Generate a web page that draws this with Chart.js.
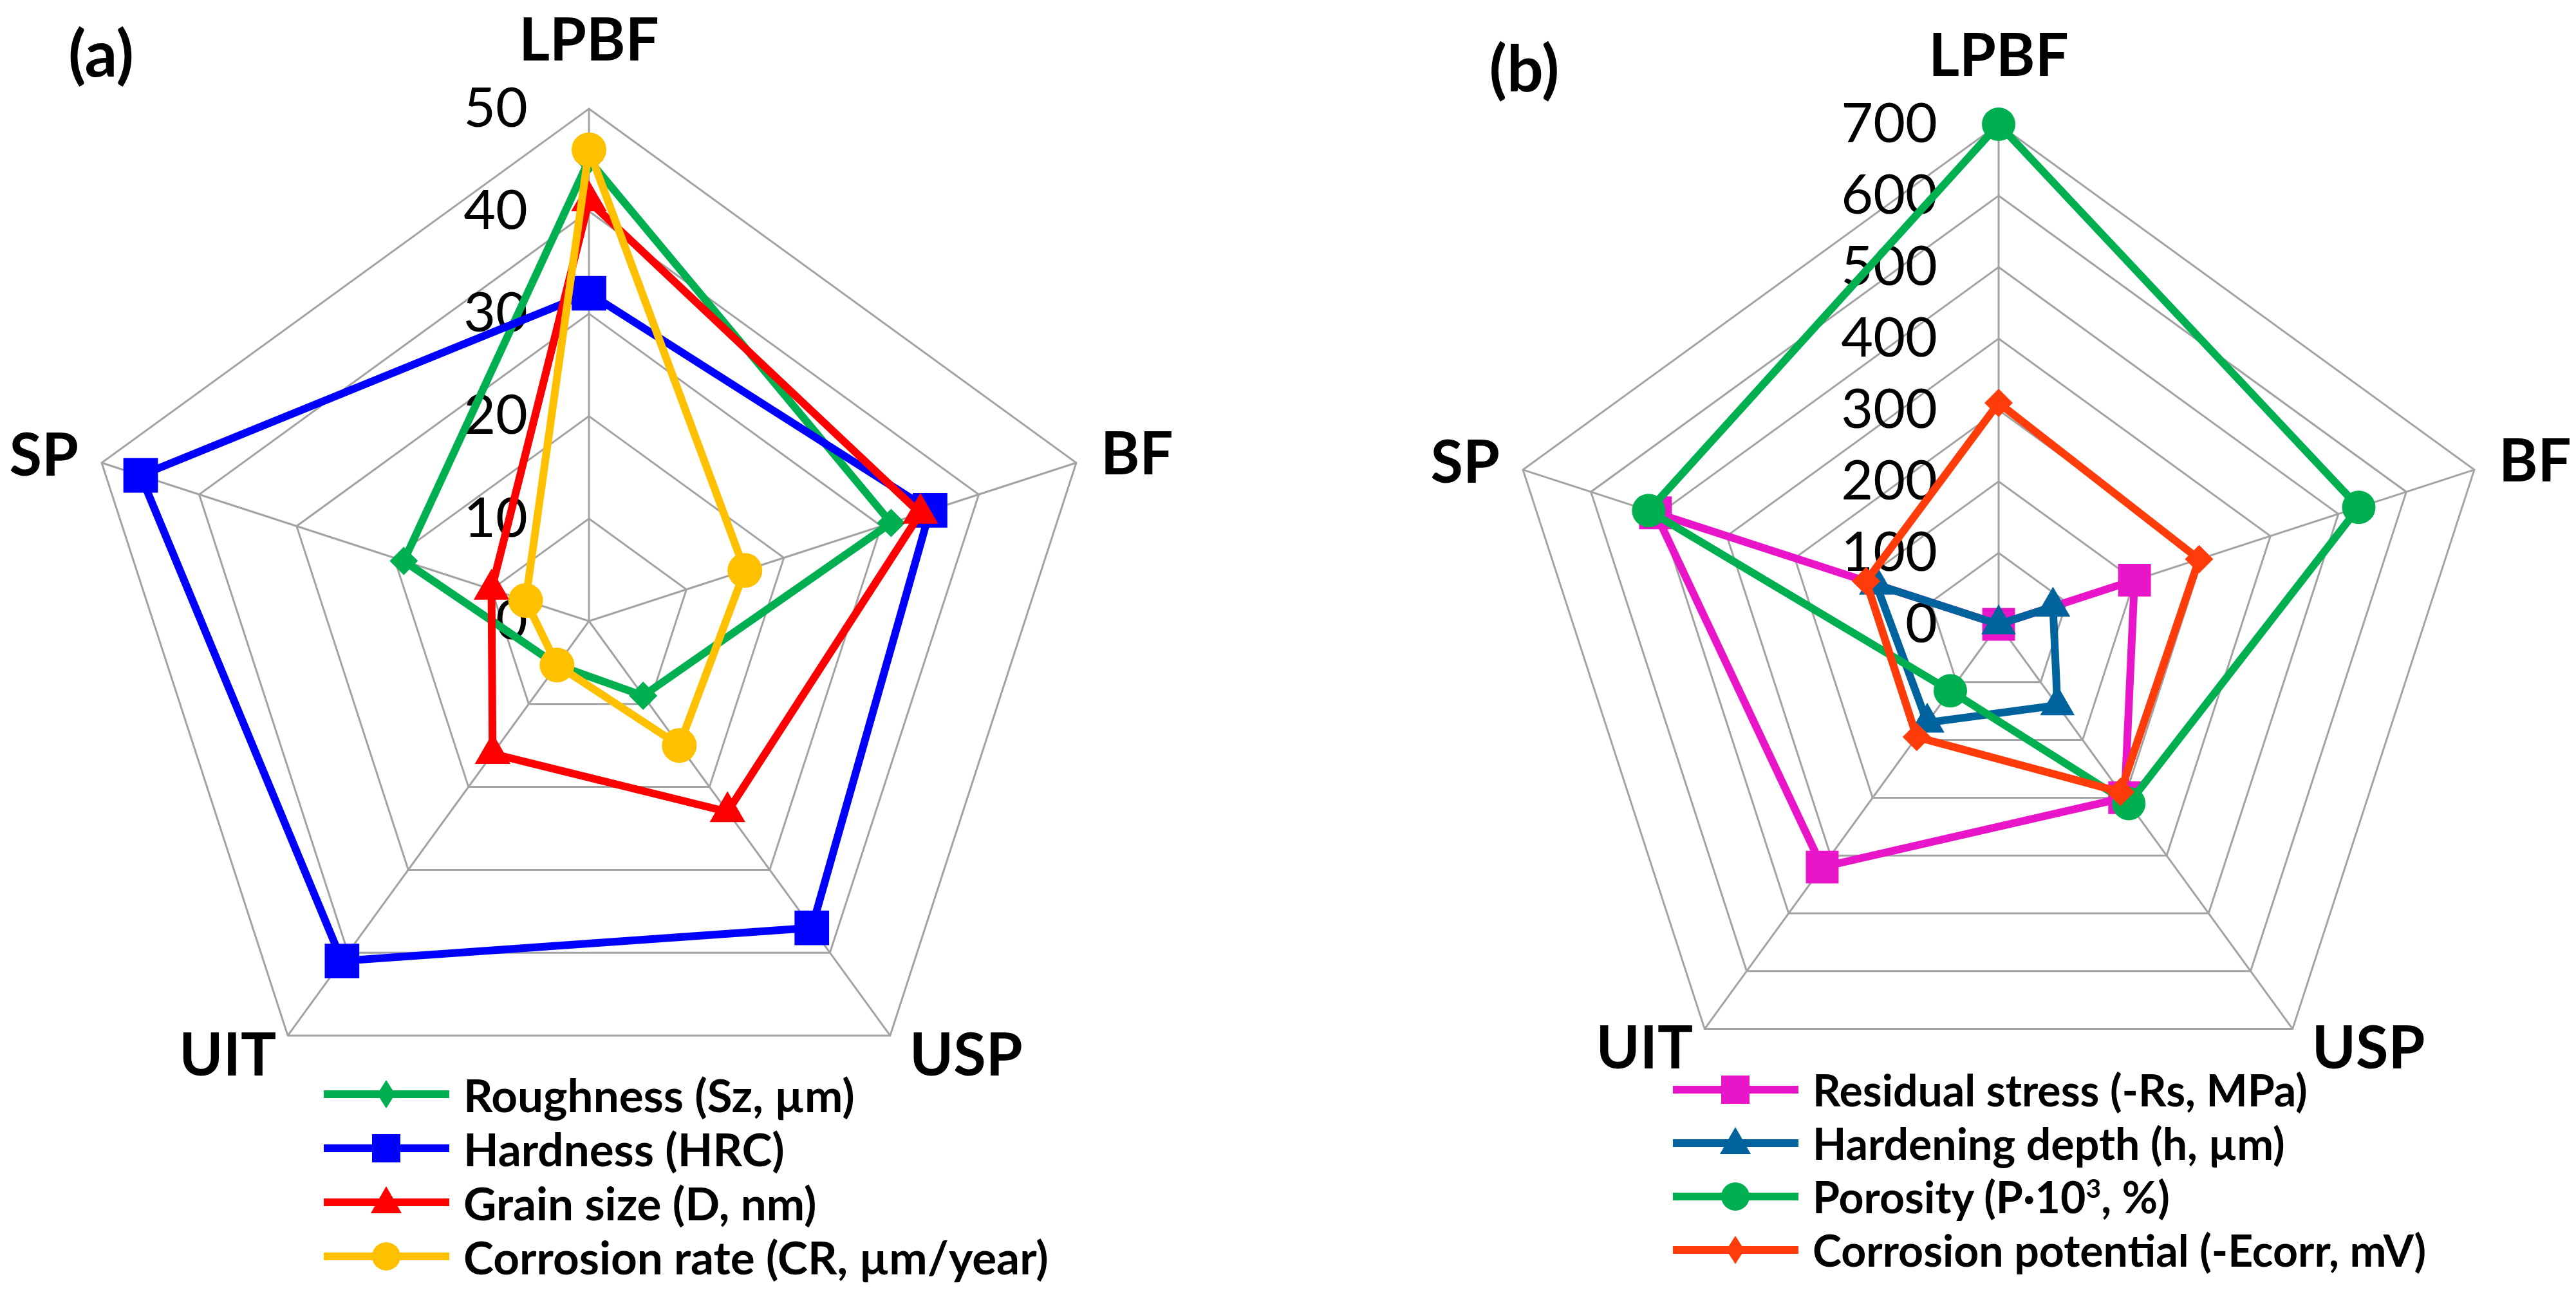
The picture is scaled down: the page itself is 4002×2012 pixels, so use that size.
<!DOCTYPE html>
<html>
<head>
<meta charset="utf-8">
<script src="https://cdn.jsdelivr.net/npm/chart.js@4.4.1/dist/chart.umd.min.js"></script>
<style>
    html, body { margin: 0; padding: 0; background: #fff; }
    body { width: 4002px; height: 2012px; position: relative; overflow: hidden; font-family: Lato, "Open Sans", sans-serif; }
    canvas { position: absolute; top: 0; }
    #graficoA { left: 0; }
    #graficoB { left: 2001px; }
    .leyenda { position: absolute; font-weight: bold; color: #000; }
    .leyenda .fila { display: flex; align-items: center; white-space: nowrap; }
    .leyenda svg { flex: none; margin-right: 22px; }
    .leyenda sup { font-size: 0.6em; line-height: 0; }
</style>
</head>
<body>
<canvas id="graficoA" width="2001" height="2012"></canvas>
<canvas id="graficoB" width="2001" height="2012"></canvas>
<div id="leyendaA" class="leyenda" style="left:503px; top:1658px; font-size:71px;"></div>
<div id="leyendaB" class="leyenda" style="left:2599px; top:1651px; font-size:68px;"></div>

<script>
// Categorias (ejes del radar, sentido horario desde arriba)
var categorias = ['LPBF', 'BF', 'USP', 'UIT', 'SP'];

// Panel (a)
var ticksA = [0, 10, 20, 30, 40, 50];
var rugosidad = [45, 31, 9, 5.3, 19];
var dureza = [32, 35, 37, 41, 46];
var tamanoGrano = [41, 34, 23, 16, 10];
var velCorrosion = [46, 16, 15, 5.3, 6.5];

// Panel (b)
var ticksB = [0, 100, 200, 300, 400, 500, 600, 700];
var tensionResidual = [0, 200, 300, 420, 505];
var profEndurecida = [0, 80, 140, 170, 180];
var porosidad = [700, 530, 310, 115, 515];
var potCorrosion = [310, 295, 290, 195, 195];

// Dibuja numeros de escala, nombres de ejes y letra del panel
var etiquetasPlugin = {
    id: 'etiquetas',
    beforeDatasetsDraw: function(chart) {
        var op = chart.options.plugins.etiquetas;
        var escala = chart.scales.r;
        var ctx = chart.ctx;
        ctx.save();
        ctx.fillStyle = '#000';
        ctx.font = '86px Lato';
        ctx.textAlign = 'right';
        ctx.textBaseline = 'middle';
        op.ticks.forEach(function(t) {
            var p = escala.getPointPositionForValue(0, t);
            ctx.fillText(String(t), p.x - 95, p.y);
        });
        ctx.restore();
    },
    afterDraw: function(chart) {
        var op = chart.options.plugins.etiquetas;
        var escala = chart.scales.r;
        var ctx = chart.ctx;
        var maximo = escala.max;
        // desplazamientos de cada nombre respecto al vertice exterior
        var ajustes = [
            { align: 'center', dx: 0, dy: -105 },
            { align: 'left', dx: 38, dy: -12 },
            { align: 'left', dx: 30, dy: 32 },
            { align: 'right', dx: -18, dy: 32 },
            { align: 'right', dx: -36, dy: -10 }
        ];
        ctx.save();
        ctx.fillStyle = '#000';
        ctx.font = 'bold 92px Lato';
        ctx.textBaseline = 'middle';
        chart.data.labels.forEach(function(nombre, i) {
            var p = escala.getPointPositionForValue(i, maximo);
            ctx.textAlign = ajustes[i].align;
            ctx.fillText(nombre, p.x + ajustes[i].dx, p.y + ajustes[i].dy);
        });
        ctx.font = 'bold 100px Lato';
        ctx.textAlign = 'center';
        ctx.fillText(op.panel, op.panelX, op.panelY);
        ctx.restore();
    }
};

function serie(etiqueta, datos, color, estilo, radio, orden) {
    return {
        label: etiqueta,
        data: datos,
        borderColor: color,
        backgroundColor: color,
        borderWidth: 12,
        fill: false,
        pointStyle: estilo,
        pointRadius: radio,
        pointBackgroundColor: color,
        pointBorderColor: color,
        pointBorderWidth: 0,
        order: orden
    };
}

function crearRadar(id, series, ticks, padding, panel) {
    var ctx = document.getElementById(id).getContext('2d');
    return new Chart(ctx, {
        type: 'radar',
        data: { labels: categorias, datasets: series },
        options: {
            responsive: false,
            animation: false,
            layout: { padding: padding },
            elements: { line: { tension: 0 } },
            plugins: {
                legend: { display: false },
                tooltip: { enabled: false },
                etiquetas: { ticks: ticks, panel: panel.texto, panelX: panel.x, panelY: panel.y }
            },
            scales: {
                r: {
                    min: ticks[0],
                    max: ticks[ticks.length - 1],
                    ticks: { display: false, stepSize: ticks[1] - ticks[0] },
                    pointLabels: { display: false },
                    grid: { color: '#a3a3a3', lineWidth: 3 },
                    angleLines: { color: '#a3a3a3', lineWidth: 3 }
                }
            }
        },
        plugins: [etiquetasPlugin]
    });
}

var seriesA = [
    serie('Roughness (Sz, µm)', rugosidad, '#00B050', 'rectRot', 22, 4),
    serie('Hardness (HRC)', dureza, '#0000FF', 'rect', 38, 3),
    serie('Grain size (D, nm)', tamanoGrano, '#FF0000', 'triangle', 32, 2),
    serie('Corrosion rate (CR, µm/year)', velCorrosion, '#FFC000', 'circle', 27, 1)
];
var seriesB = [
    serie('Residual stress (-Rs, MPa)', tensionResidual, '#E916C9', 'rect', 36, 4),
    serie('Hardening depth (h, µm)', profEndurecida, '#00639E', 'triangle', 31, 3),
    serie('Porosity (P·10<sup>3</sup>, %)', porosidad, '#00B050', 'circle', 26, 2),
    serie('Corrosion potential (-Ecorr, mV)', potCorrosion, '#FF3C0A', 'rectRot', 22, 1)
];

crearRadar('graficoA', seriesA, ticksA, { left: 119, right: 290, top: 169, bottom: 251 }, { texto: '(a)', x: 157, y: 87 });
crearRadar('graficoB', seriesB, ticksB, { left: 327, right: 120, top: 193, bottom: 265 }, { texto: '(b)', x: 367, y: 110 });

// Leyenda vertical (linea + marcador + texto)
function marcadorSvg(color, estilo) {
    var c = 97, m = 42, forma = '';
    if (estilo === 'rect') {
        forma = '<rect x="' + (c - 22) + '" y="' + (m - 22) + '" width="44" height="44" fill="' + color + '"/>';
    } else if (estilo === 'triangle') {
        forma = '<polygon points="' + c + ',' + (m - 25) + ' ' + (c + 24) + ',' + (m + 17) + ' ' + (c - 24) + ',' + (m + 17) + '" fill="' + color + '"/>';
    } else if (estilo === 'circle') {
        forma = '<circle cx="' + c + '" cy="' + m + '" r="22" fill="' + color + '"/>';
    } else {
        forma = '<polygon points="' + c + ',' + (m - 22) + ' ' + (c + 14) + ',' + m + ' ' + c + ',' + (m + 22) + ' ' + (c - 14) + ',' + m + '" fill="' + color + '"/>';
    }
    return '<svg width="195" height="84"><line x1="0" y1="' + m + '" x2="195" y2="' + m + '" stroke="' + color + '" stroke-width="12"/>' + forma + '</svg>';
}

function llenarLeyenda(id, series, alto) {
    var cont = document.getElementById(id);
    series.forEach(function(s) {
        var fila = document.createElement('div');
        fila.className = 'fila';
        fila.style.height = alto + 'px';
        fila.innerHTML = marcadorSvg(s.borderColor, s.pointStyle) + '<span>' + s.label + '</span>';
        cont.appendChild(fila);
    });
}

llenarLeyenda('leyendaA', seriesA, 84);
llenarLeyenda('leyendaB', seriesB, 83);
</script>
</body>
</html>
